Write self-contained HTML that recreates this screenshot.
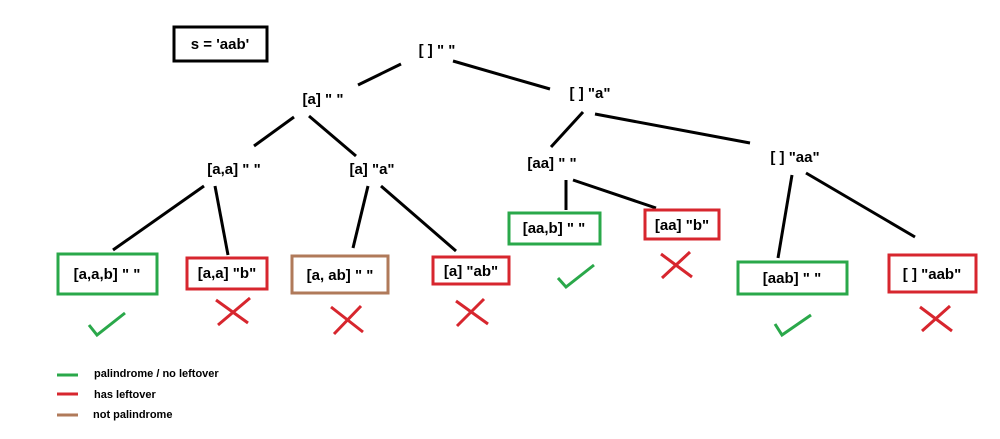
<!DOCTYPE html>
<html><head><style>body{margin:0;background:#fff}svg{display:block}</style></head><body>
<svg width="1000" height="439" viewBox="0 0 1000 439" xmlns="http://www.w3.org/2000/svg" font-family="Liberation Sans, sans-serif" font-weight="bold" font-size="15">
<g stroke="#000" stroke-width="3" fill="none">
<rect x="174" y="27" width="93" height="34"/>
<line x1="358" y1="85" x2="401" y2="64"/>
<line x1="453" y1="61" x2="550" y2="89"/>
<line x1="254" y1="146" x2="294" y2="117"/>
<line x1="309" y1="116" x2="356" y2="156"/>
<line x1="583" y1="112" x2="551" y2="147"/>
<line x1="595" y1="114" x2="750" y2="143"/>
<line x1="204" y1="186" x2="113" y2="250"/>
<line x1="215" y1="186" x2="228" y2="255"/>
<line x1="368" y1="186" x2="353" y2="248"/>
<line x1="381" y1="186" x2="456" y2="251"/>
<line x1="566" y1="180" x2="566" y2="210"/>
<line x1="573" y1="180" x2="656" y2="208"/>
<line x1="792" y1="175" x2="778" y2="258"/>
<line x1="806" y1="173" x2="915" y2="237"/>
</g>
<g fill="none" stroke-width="3">
<rect x="58" y="254" width="99" height="40" stroke="#2aa84a"/>
<rect x="187" y="258" width="80" height="31" stroke="#d7262e"/>
<rect x="292" y="256" width="96" height="37" stroke="#b07a5a"/>
<rect x="433" y="257" width="76" height="27" stroke="#d7262e"/>
<rect x="509" y="213" width="91" height="31" stroke="#2aa84a"/>
<rect x="645" y="210" width="74" height="29" stroke="#d7262e"/>
<rect x="738" y="262" width="109" height="32" stroke="#2aa84a"/>
<rect x="889" y="255" width="87" height="37" stroke="#d7262e"/>
<g stroke="#2aa84a"><polyline points="89,325 97,335 125,313"/><polyline points="558,278 566,287 594,265"/><polyline points="775,324 782,335 811,315"/>
<line x1="57" y1="375" x2="78" y2="375"/></g>
<g stroke="#d7262e"><path d="M216,300 L248,323 M250,298 L218,325"/><path d="M331,307 L363,332 M361,306 L334,334"/><path d="M456,301 L488,324 M484,299 L457,326"/><path d="M661,254 L692,277 M690,252 L662,278"/><path d="M920,307 L952,331 M950,306 L922,331"/>
<line x1="57" y1="394" x2="78" y2="394"/></g>
<line x1="57" y1="415" x2="78" y2="415" stroke="#b07a5a"/>
</g>
<g fill="#000" text-anchor="middle">
<text x="220" y="49">s = 'aab'</text>
<text x="437" y="55">[ ] " "</text>
<text x="323" y="104">[a] " "</text>
<text x="590" y="98">[ ] "a"</text>
<text x="234" y="174">[a,a] " "</text>
<text x="372" y="174">[a] "a"</text>
<text x="552" y="168">[aa] " "</text>
<text x="795" y="162">[ ] "aa"</text>
<text x="107" y="279">[a,a,b] " "</text>
<text x="227" y="278">[a,a] "b"</text>
<text x="340" y="280">[a, ab] " "</text>
<text x="471" y="276">[a] "ab"</text>
<text x="554" y="233">[aa,b] " "</text>
<text x="682" y="230">[aa] "b"</text>
<text x="792" y="283">[aab] " "</text>
<text x="932" y="279">[ ] "aab"</text>
</g>
<g fill="#000" font-size="11">
<text x="94" y="377">palindrome / no leftover</text>
<text x="94" y="398">has leftover</text>
<text x="93" y="418">not palindrome</text>
</g>
</svg>
</body></html>
